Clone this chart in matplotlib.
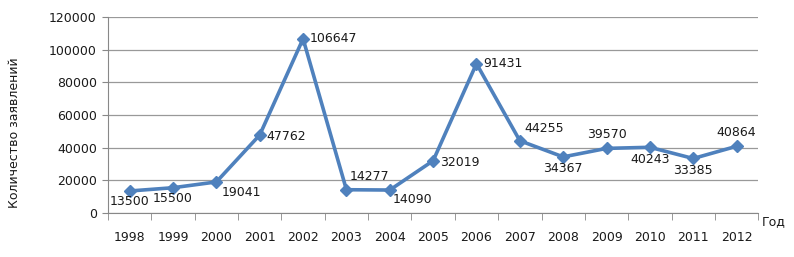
import matplotlib
matplotlib.use("Agg")
import matplotlib.pyplot as plt

years = ["1998", "1999", "2000", "2001", "2002", "2003", "2004", "2005",
         "2006", "2007", "2008", "2009", "2010", "2011", "2012"]
counts = [13500, 15500, 19041, 47762, 106647, 14277, 14090, 32019,
          91431, 44255, 34367, 39570, 40243, 33385, 40864]
yticks = [0, 20000, 40000, 60000, 80000, 100000, 120000]

# label offsets in points (dx, dy, ha, va)
offsets = [
    (0, -3, "center", "top"),
    (0, -3, "center", "top"),
    (4, -3, "left", "top"),
    (5, -1, "left", "center"),
    (5, 0, "left", "center"),
    (2, 5, "left", "bottom"),
    (2, -2, "left", "top"),
    (5, -1, "left", "center"),
    (5, 0, "left", "center"),
    (3, 4, "left", "bottom"),
    (0, -4, "center", "top"),
    (0, 5, "center", "bottom"),
    (0, -4, "center", "top"),
    (0, -4, "center", "top"),
    (0, 5, "center", "bottom"),
]

plt.rcParams["font.family"] = ["DejaVu Sans"]
fig = plt.figure(figsize=(7.94, 2.57), dpi=100)
ax = fig.add_axes([0.136, 0.171, 0.819, 0.763])

x = list(range(len(years)))
ax.plot(x, counts, color="#4F81BD", lw=2.6, marker="D", ms=6.5,
        zorder=3, clip_on=False)

for xi, v, (dx, dy, ha, va) in zip(x, counts, offsets):
    ax.annotate(str(v), (xi, v), xytext=(dx, dy), textcoords="offset points",
                ha=ha, va=va, fontsize=9, color="#1a1a1a")

ax.set_xlim(-0.5, len(years) - 0.5)
ax.set_ylim(0, 120000)
ax.set_yticks(yticks)
ax.set_yticklabels([str(t) for t in yticks], fontsize=9, color="#1a1a1a")
ax.set_xticks(x)
ax.set_xticklabels(years, fontsize=9, color="#1a1a1a")
ax.tick_params(axis="x", length=0, pad=13)
ax.set_xticks([i - 0.5 for i in range(len(years) + 1)], minor=True)
ax.tick_params(axis="x", which="minor", length=5, color="#888888", direction="out")
ax.tick_params(axis="y", length=4, color="#888888", pad=4)
ax.grid(axis="y", color="#999999", lw=0.9)
ax.set_axisbelow(True)
for s in ["top", "right"]:
    ax.spines[s].set_visible(False)
ax.spines["left"].set_color("#888888")
ax.spines["bottom"].set_color("#888888")

fig.text(15 / 794, 0.482, "Количество заявлений", rotation=90, fontsize=9,
         ha="center", va="center", color="#1a1a1a")
ax.text(1.006, -0.046, "Год", transform=ax.transAxes, fontsize=9,
        ha="left", va="center", color="#1a1a1a")

fig.savefig("out.png", dpi=100)
